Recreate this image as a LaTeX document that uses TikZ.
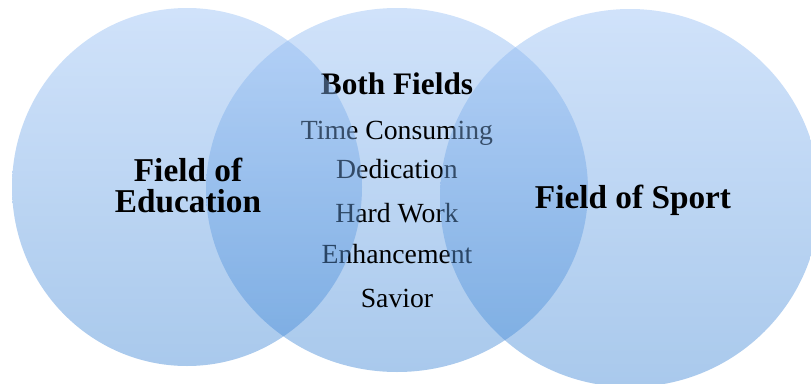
\documentclass[tikz,border=0pt]{standalone}
\usepackage{fontspec}
\setmainfont{Liberation Serif}
\definecolor{circtop}{RGB}{151,191,244}
\definecolor{circbot}{RGB}{64,135,213}
\tikzset{
  circ/.style={top color=circtop, bottom color=circbot, opacity=0.45},
  midtext/.style={anchor=base, inner sep=0pt, font=\fontsize{27.7}{30}\selectfont},
  headtext/.style={anchor=base, inner sep=0pt, font=\fontsize{31.3}{34}\selectfont\bfseries},
  sidetext/.style={anchor=base, inner sep=0pt, font=\fontsize{33.3}{36}\selectfont\bfseries},
}
\begin{document}
\begin{tikzpicture}[x=1pt,y=-1pt]
\useasboundingbox (0,0) rectangle (811,383);
\clip (0,0) rectangle (811,383);
% middle circle and its text (text lies under the outer circles)
\shade[circ] (397,190) ellipse [x radius=191, y radius=182];
\node[headtext] (both) at (397,94) {Both Fields};
\node[midtext] (time) at (397,139) {Time Consuming};
\node[midtext] (ded) at (397,178) {Dedication};
\node[midtext] (hard) at (397,222) {Hard Work};
\node[midtext] (enh) at (397,263) {Enhancement};
\node[midtext] (sav) at (397,307) {Savior};
% outer circles
\shade[circ] (187,187) ellipse [x radius=175, y radius=179];
\shade[circ] (630,198) ellipse [x radius=190, y radius=189];
% side labels
\node[sidetext] (edu1) at (188,181) {Field of};
\node[sidetext] (edu2) at (188,212) {Education};
\node[sidetext] (sport) at (633,208) {Field of Sport};
\end{tikzpicture}
\end{document}
